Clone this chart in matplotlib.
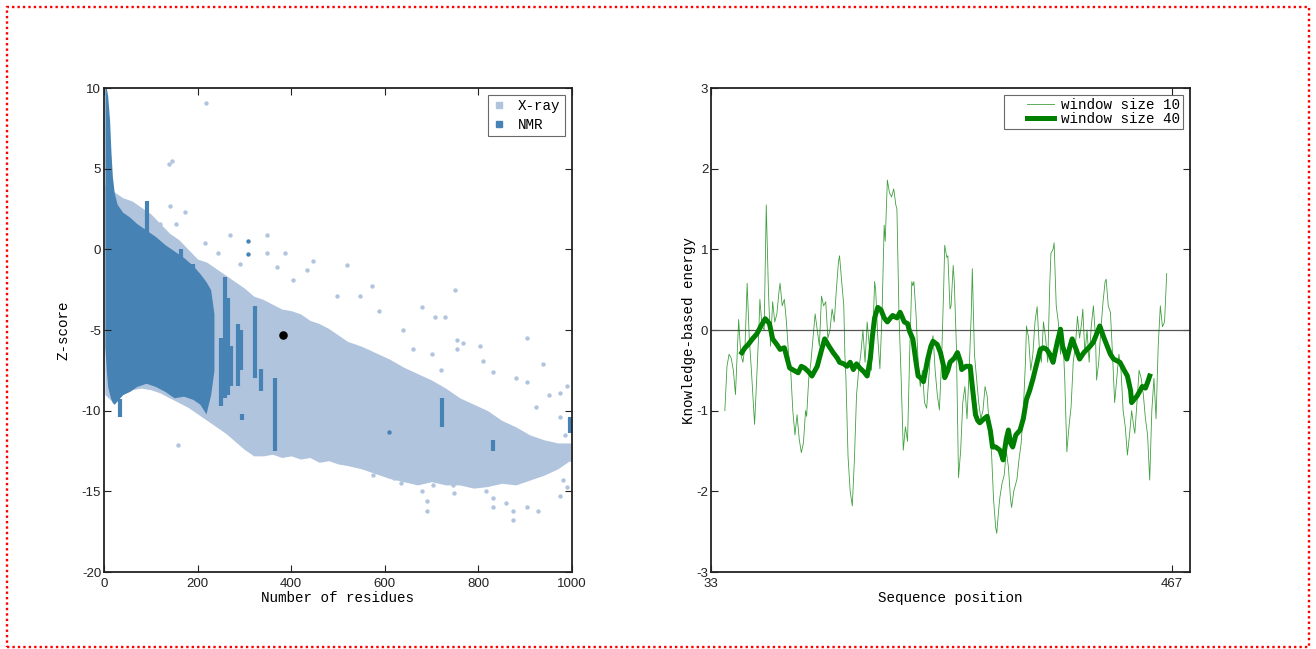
import matplotlib
matplotlib.use("Agg")
import matplotlib.pyplot as plt
from matplotlib.lines import Line2D
from matplotlib.legend_handler import HandlerLine2D
from matplotlib.patches import Rectangle

plt.rcParams["axes.unicode_minus"] = False

MONO = "Liberation Mono"
SANS = "Liberation Sans"
XRAY = "#b0c4de"
NMR = "#4682b4"
GREEN = "#008000"

# ---- left panel: Z-score vs number of residues (cloud envelopes)
xray_x = [2, 20, 40, 60, 80, 100, 120, 140, 160, 180, 200, 220, 240, 260, 280, 300,
          320, 340, 360, 380, 400, 420, 440, 460, 480, 500, 520, 550, 580, 610, 640,
          670, 700, 730, 760, 790, 820, 850, 880, 910, 940, 970, 1000]
xray_upper = [4.0, 3.6, 3.2, 3.0, 2.6, 2.2, 1.6, 1.0, 0.6, 0.0, -0.6, -0.8, -1.2, -1.6,
              -2.0, -2.4, -2.9, -3.1, -3.4, -3.7, -3.8, -4.0, -4.4, -4.6, -4.9, -5.3,
              -5.7, -6.0, -6.4, -6.8, -7.3, -7.7, -8.1, -8.6, -9.2, -9.6, -10.0, -10.6,
              -11.0, -11.5, -11.8, -12.0, -12.0]
xray_lower = [-9.0, -9.5, -9.0, -8.7, -8.6, -8.7, -8.9, -9.2, -9.5, -9.8, -10.2, -10.6,
              -11.0, -11.4, -11.9, -12.4, -12.8, -12.8, -12.7, -12.9, -12.8, -13.0,
              -12.9, -13.2, -13.1, -13.3, -13.4, -13.6, -13.9, -14.2, -14.4, -14.6,
              -14.4, -14.6, -14.6, -14.8, -14.7, -14.5, -14.6, -14.3, -14.0, -13.6, -13.0]

xray_out_x = [218, 138, 145, 142, 173, 153, 120, 216, 269, 348, 244, 290, 348, 387, 447,
              519, 433, 370, 404, 497, 547, 572, 750, 679, 707, 729, 587, 754, 754, 768,
              810, 803, 831, 903, 938, 903, 974, 923, 974, 981, 990, 974, 690, 690, 680,
              704, 831, 831, 860, 874, 874, 903, 927, 817, 746, 746, 620, 635, 575, 159,
              747, 640, 660, 700, 720, 880, 950, 990, 960, 985, 995]
xray_out_y = [9.1, 5.3, 5.5, 2.7, 2.3, 1.6, 1.6, 0.4, 0.9, 0.9, -0.25, -0.9, -0.2, -0.25,
              -0.7, -1.0, -1.3, -1.1, -1.9, -2.9, -2.9, -2.3, -2.5, -3.6, -4.2, -4.2, -3.8,
              -5.6, -6.2, -5.8, -6.9, -6.0, -7.6, -5.5, -7.1, -8.2, -8.9, -9.8, -10.4,
              -14.3, -14.7, -15.3, -16.2, -15.6, -15.0, -14.6, -15.4, -16.0, -15.7, -16.8,
              -16.2, -16.0, -16.2, -15.0, -14.2, -14.6, -14.2, -14.5, -14.0, -12.1, -15.1,
              -5.0, -6.2, -6.5, -7.5, -8.0, -9.0, -8.5, -12.5, -11.5, -13.0]

nmr_x = [2, 5, 8, 12, 15, 18, 22, 28, 40, 55, 70, 90, 110, 130, 150, 170, 190, 205,
         218, 228, 235]
nmr_upper = [10.0, 10.0, 9.5, 8.0, 6.0, 4.5, 3.5, 2.8, 2.3, 2.0, 1.6, 1.2, 0.8, 0.3,
             -0.1, -0.5, -1.0, -1.5, -2.0, -2.5, -4.0]
nmr_lower = [-6.0, -7.5, -8.5, -9.0, -9.3, -9.5, -9.6, -9.4, -9.0, -8.8, -8.5, -8.3,
             -8.5, -8.8, -9.2, -9.1, -9.3, -9.6, -10.2, -9.0, -7.5]

nmr_streak_x = [35, 92, 165, 190, 207, 250, 258, 265, 272, 286, 292, 295, 323, 335, 365,
                722, 831, 996]
nmr_streak_lo = [-10.4, 0.9, -2.3, -2.1, -3.4, -9.7, -9.2, -9.0, -8.5, -8.5, -7.5, -10.6,
                 -8.0, -8.8, -12.5, -11.0, -12.5, -11.4]
nmr_streak_hi = [-9.3, 3.0, 0.0, -0.9, -2.1, -5.5, -1.7, -3.0, -6.0, -4.6, -5.0, -10.2,
                 -3.5, -7.4, -8.0, -9.2, -11.8, -10.4]
nmr_dot_x = [308, 308, 609]
nmr_dot_y = [0.5, -0.3, -11.3]

query_x, query_y = 383, -5.3

# ---- right panel: knowledge-based energy along the sequence
seq_min, seq_max = 33, 467
thin_pos = [46, 48, 50, 52, 54, 56, 58, 59, 61, 63, 65, 67, 69, 71, 74, 76, 78, 79, 81, 83,
            85, 87, 89, 91, 93, 95, 97, 98, 100, 102, 104, 106, 108, 110, 112, 114, 116,
            118, 120, 122, 123, 125, 127, 129, 131, 133, 135, 137, 139, 141, 143, 145, 147,
            149, 151, 153, 154, 156, 158, 159, 160, 162, 164, 166, 168, 170, 172, 174, 176,
            178, 180, 182, 184, 186, 187, 188, 190, 192, 194, 196, 197, 199, 201, 203, 205,
            207, 208, 210, 212, 214, 216, 218, 220, 222, 223, 224, 226, 228, 230, 232, 234,
            236, 238, 240, 242, 244, 246, 248, 250, 252, 253, 255, 256, 258, 259, 261, 262,
            264, 266, 268, 270, 272, 274, 276, 278, 279, 281, 283, 285, 287, 289, 291, 293,
            295, 297, 299, 301, 302, 304, 305, 307, 309, 311, 313, 315, 316, 318, 321, 323,
            325, 327, 329, 330, 332, 334, 336, 338, 340, 342, 344, 346, 348, 350, 352, 353,
            355, 356, 358, 360, 362, 364, 366, 368, 370, 372, 374, 376, 378, 380, 382, 383,
            385, 387, 389, 391, 393, 395, 396, 398, 400, 402, 404, 405, 407, 409, 411, 413,
            415, 417, 419, 421, 423, 425, 427, 429, 431, 432, 434, 436, 438, 440, 442, 444,
            446, 448, 450, 452, 454, 456, 458, 460, 462]
thin_val = [-1.0, -0.45, -0.3, -0.35, -0.5, -0.8, -0.2, 0.13, -0.3, -0.4, -0.2, 0.58, -0.1,
            -0.5, -1.17, -0.6, 0.0, 0.38, 0.05, 0.0, 1.55, 0.5, -0.2, 0.35, 0.1, 0.2, 0.48,
            0.58, 0.3, 0.38, 0.1, -0.3, -0.5, -1.0, -1.3, -1.05, -1.35, -1.52, -1.4, -1.0,
            -1.07, -0.6, -0.4, -0.1, 0.2, 0.0, -0.2, 0.42, 0.3, 0.35, -0.1, 0.0, 0.26, 0.1,
            0.5, 0.85, 0.92, 0.6, 0.3, -0.3, -0.6, -1.57, -2.0, -2.18, -1.6, -0.8, -0.5,
            -0.3, 0.0, -0.4, 0.1, -0.2, -0.5, 0.2, 0.6, 0.5, -0.1, -0.48, 0.2, 1.3, 1.1,
            1.86, 1.7, 1.65, 1.75, 1.55, 1.5, 0.17, -0.6, -1.49, -1.2, -1.38, -0.3, 0.6,
            0.55, 0.6, 0.2, -0.4, -0.7, -0.5, -0.9, -0.97, -0.6, -0.2, -0.07, -0.5, -0.8,
            -0.99, -0.4, 0.5, 1.05, 0.9, 0.92, 0.26, 0.3, 0.8, 0.6, -0.2, -1.83, -1.5, -0.9,
            -0.7, -1.1, -0.5, 0.2, 0.76, -0.3, -0.6, -0.9, -1.1, -1.0, -0.7, -0.82, -1.2,
            -1.5, -2.1, -2.45, -2.52, -2.2, -2.07, -1.9, -1.8, -1.5, -1.7, -2.1, -2.2, -2.0,
            -1.85, -1.6, -1.4, -1.0, -0.4, 0.05, -0.1, -0.5, -0.3, 0.1, 0.29, -0.2, -0.4,
            0.1, -0.1, -0.4, 0.6, 0.95, 1.0, 1.08, 0.3, 0.09, -0.3, 0.0, -0.6, -1.51, -1.2,
            -0.95, -0.4, -0.2, 0.17, -0.1, 0.1, 0.26, -0.3, 0.0, -0.4, 0.05, 0.3, -0.1,
            -0.62, -0.4, 0.0, 0.34, 0.6, 0.63, 0.3, 0.22, -0.3, -0.9, -0.6, -0.3, -0.5, -1.0,
            -1.2, -1.55, -1.3, -1.0, -1.2, -1.28, -0.9, -0.5, -0.6, -0.8, -1.1, -1.3, -1.86,
            -1.0, -0.6, -1.1, -0.2, 0.3, 0.04, 0.1, 0.7]

thick_pos = [62, 65, 68, 72, 76, 80, 84, 88, 91, 95, 98, 102, 104, 107, 111, 115, 118, 121,
             125, 128, 133, 137, 140, 144, 148, 152, 154, 158, 161, 164, 167, 170, 173, 177,
             180, 183, 185, 187, 190, 193, 196, 199, 202, 204, 208, 211, 215, 218, 220, 223,
             226, 228, 231, 233, 235, 237, 240, 242, 246, 249, 252, 253, 256, 258, 262, 265,
             268, 269, 273, 277, 279, 282, 284, 286, 290, 293, 296, 298, 301, 305, 308, 311,
             313, 315, 317, 320, 324, 327, 330, 333, 336, 340, 343, 346, 349, 352, 355, 359,
             362, 364, 368, 371, 373, 377, 380, 384, 387, 390, 393, 396, 399, 403, 406, 409,
             412, 415, 418, 422, 425, 428, 429, 432, 434, 437, 439, 442, 444, 446]
thick_val = [-0.28, -0.22, -0.18, -0.11, -0.05, 0.05, 0.14, 0.08, -0.11, -0.18, -0.24,
             -0.22, -0.32, -0.47, -0.5, -0.53, -0.45, -0.47, -0.52, -0.57, -0.45, -0.25,
             -0.11, -0.2, -0.28, -0.35, -0.4, -0.42, -0.45, -0.4, -0.49, -0.42, -0.47, -0.52,
             -0.57, -0.35, -0.07, 0.15, 0.28, 0.25, 0.15, 0.1, 0.15, 0.18, 0.15, 0.22, 0.1,
             0.08, -0.02, -0.11, -0.4, -0.57, -0.6, -0.64, -0.5, -0.36, -0.2, -0.14, -0.18,
             -0.28, -0.45, -0.59, -0.5, -0.4, -0.35, -0.28, -0.4, -0.49, -0.45, -0.45, -0.7,
             -1.05, -1.12, -1.15, -1.1, -1.07, -1.25, -1.45, -1.45, -1.49, -1.61, -1.35,
             -1.24, -1.4, -1.45, -1.3, -1.24, -1.1, -0.86, -0.75, -0.61, -0.4, -0.24, -0.22,
             -0.24, -0.3, -0.4, -0.15, 0.01, -0.2, -0.36, -0.2, -0.11, -0.25, -0.36, -0.28,
             -0.24, -0.2, -0.15, -0.05, 0.05, -0.1, -0.2, -0.3, -0.36, -0.38, -0.4, -0.5,
             -0.57, -0.75, -0.9, -0.85, -0.82, -0.75, -0.7, -0.72, -0.65, -0.57]


def style_axes(ax):
    for side in ["top", "right", "bottom", "left"]:
        ax.spines[side].set_linewidth(1.3)
        ax.spines[side].set_color("#222222")
    ax.tick_params(direction="in", length=5, width=0.8, top=True, right=True,
                   labelsize=9.5, pad=2, colors="#222222")
    ax.tick_params(axis="x", pad=4)
    for lab in ax.get_xticklabels() + ax.get_yticklabels():
        lab.set_fontfamily(SANS)


fig = plt.figure(figsize=(13.16, 6.49), dpi=100)
ax1 = fig.add_axes([0.0790, 0.1186, 0.3556, 0.7458])
ax2 = fig.add_axes([0.5403, 0.1186, 0.3640, 0.7458])

# left panel
ax1.fill_between(xray_x, xray_lower, xray_upper, color=XRAY, lw=0)
ax1.scatter(xray_out_x, xray_out_y, s=10, color=XRAY, lw=0)
ax1.fill_between(nmr_x, nmr_lower, nmr_upper, color=NMR, lw=0)
ax1.vlines(nmr_streak_x, nmr_streak_lo, nmr_streak_hi, color=NMR, lw=3)
ax1.scatter(nmr_dot_x, nmr_dot_y, s=10, color=NMR, lw=0)
ax1.scatter([query_x], [query_y], s=38, color="black", lw=0, zorder=5)
ax1.set_xlim(0, 1000)
ax1.set_ylim(-20, 10)
ax1.set_xticks(range(0, 1001, 200))
ax1.set_yticks(range(-20, 11, 5))
ax1.set_xlabel("Number of residues", family=MONO, fontsize=10.3, labelpad=1)
ax1.set_ylabel("Z-score", family=MONO, fontsize=10.3, labelpad=8)
handles = [Line2D([], [], ls="", marker="s", ms=5, color=XRAY, label="X-ray"),
           Line2D([], [], ls="", marker="s", ms=5, color=NMR, label="NMR")]
leg = ax1.legend(handles=handles, loc="upper right", prop={"family": MONO, "size": 10.3},
                 fancybox=False, edgecolor="#444444", handlelength=1, handletextpad=0.8,
                 borderaxespad=0.5, labelspacing=0.3, borderpad=0.3)
leg.get_frame().set_linewidth(0.8)
style_axes(ax1)

# right panel
ax2.axhline(0, color="#555555", lw=0.9)
ax2.plot(thin_pos, thin_val, color=GREEN, lw=0.6, alpha=0.75, label="window size 10")
ax2.plot(thick_pos, thick_val, color=GREEN, lw=3.6, label="window size 40")
ax2.set_xlim(seq_min, 484)
ax2.set_ylim(-3, 3)
ax2.set_xticks([seq_min, seq_max])
ax2.set_yticks(range(-3, 4))
ax2.set_xlabel("Sequence position", family=MONO, fontsize=10.3, labelpad=1)
ax2.set_ylabel("Knowledge-based energy", family=MONO, fontsize=10.3, labelpad=0)
leg2 = ax2.legend(loc="upper right", prop={"family": MONO, "size": 10.3}, fancybox=False,
                  edgecolor="#444444", handlelength=3.3, handletextpad=0.5,
                  borderaxespad=0.5, labelspacing=0.0, borderpad=0.2,
                  handler_map={Line2D: HandlerLine2D(xpad=1.4)})
leg2.get_frame().set_linewidth(0.8)
style_axes(ax2)

# dotted red frame around the whole picture
fig.add_artist(Rectangle((7 / 1316, 2 / 649), 1302 / 1316, 640 / 649, transform=fig.transFigure,
                         fill=False, edgecolor="red", lw=1.7, ls=(0, (1, 1.3))))

fig.savefig("out.png", dpi=100)
